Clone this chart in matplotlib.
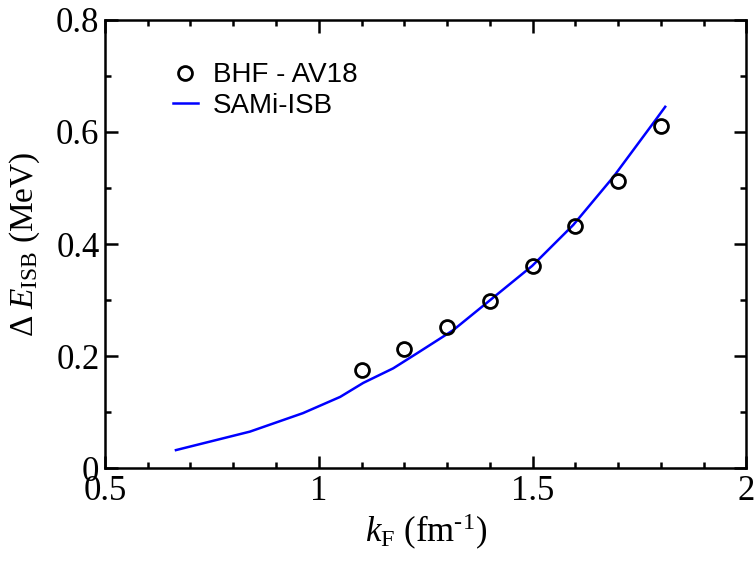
import numpy as np
import matplotlib.pyplot as plt
from matplotlib.ticker import MultipleLocator

# dados
kf_bhf = [1.1, 1.2, 1.3, 1.4, 1.5, 1.6, 1.7, 1.8]
de_bhf = [0.175, 0.212, 0.252, 0.298, 0.360, 0.432, 0.512, 0.611]

kf_sami = [0.666, 0.839, 0.963, 1.05, 1.104, 1.174, 1.23, 1.314, 1.401, 1.499, 1.595, 1.689, 1.787, 1.81]
de_sami = [0.032, 0.065, 0.098, 0.127, 0.152, 0.178, 0.205, 0.246, 0.300, 0.361, 0.434, 0.520, 0.621, 0.645]

plt.rcParams['font.family'] = 'Liberation Serif'
plt.rcParams['mathtext.fontset'] = 'custom'
plt.rcParams['mathtext.rm'] = 'Liberation Serif'
plt.rcParams['mathtext.it'] = 'Liberation Serif:italic'

fig = plt.figure(figsize=(7.55, 5.63), dpi=100)
ax = fig.add_axes([0.139, 0.1687, 0.8497, 0.7958])

ax.plot(kf_sami, de_sami, color='#0000ff', lw=1.8, label='SAMi-ISB', zorder=2)
ax.plot(kf_bhf, de_bhf, 'o', ms=10, mfc='none', mec='black', mew=2.0,
        label='BHF - AV18', zorder=3)

ax.set_xlim(0.5, 2)
ax.set_ylim(0, 0.8)
ax.xaxis.set_minor_locator(MultipleLocator(0.1))
ax.yaxis.set_minor_locator(MultipleLocator(0.1))
ax.set_xticks([0.5, 1, 1.5, 2])
ax.set_xticklabels(['0.5', '1', '1.5', '2'])
ax.set_yticks([0, 0.2, 0.4, 0.6, 0.8])
ax.set_yticklabels(['0', '0.2', '0.4', '0.6', '0.8'])

ax.tick_params(which='both', direction='in', top=True, right=True, width=1.8, labelsize=25)
ax.tick_params(which='major', length=9, pad=4)
ax.tick_params(which='minor', length=4.5)
ax.tick_params(axis='x', which='major', pad=5)
for s in ax.spines.values():
    s.set_linewidth(1.8)

ax.set_xlabel(r'$k_{\rm F}$ (fm$^{\text{-1}}$)', fontsize=25, labelpad=3)
ax.set_ylabel(r'$\Delta\;E_{\rm ISB}$ (MeV)', fontsize=24, labelpad=10)

h, l = ax.get_legend_handles_labels()
ax.legend(h[::-1], l[::-1], loc='upper left', bbox_to_anchor=(0.088, 0.93),
          frameon=False, prop={'family': 'Liberation Sans', 'size': 20},
          handlelength=0.9, handletextpad=0.55, labelspacing=0.15, borderaxespad=0)

fig.savefig('out.png', dpi=100)
